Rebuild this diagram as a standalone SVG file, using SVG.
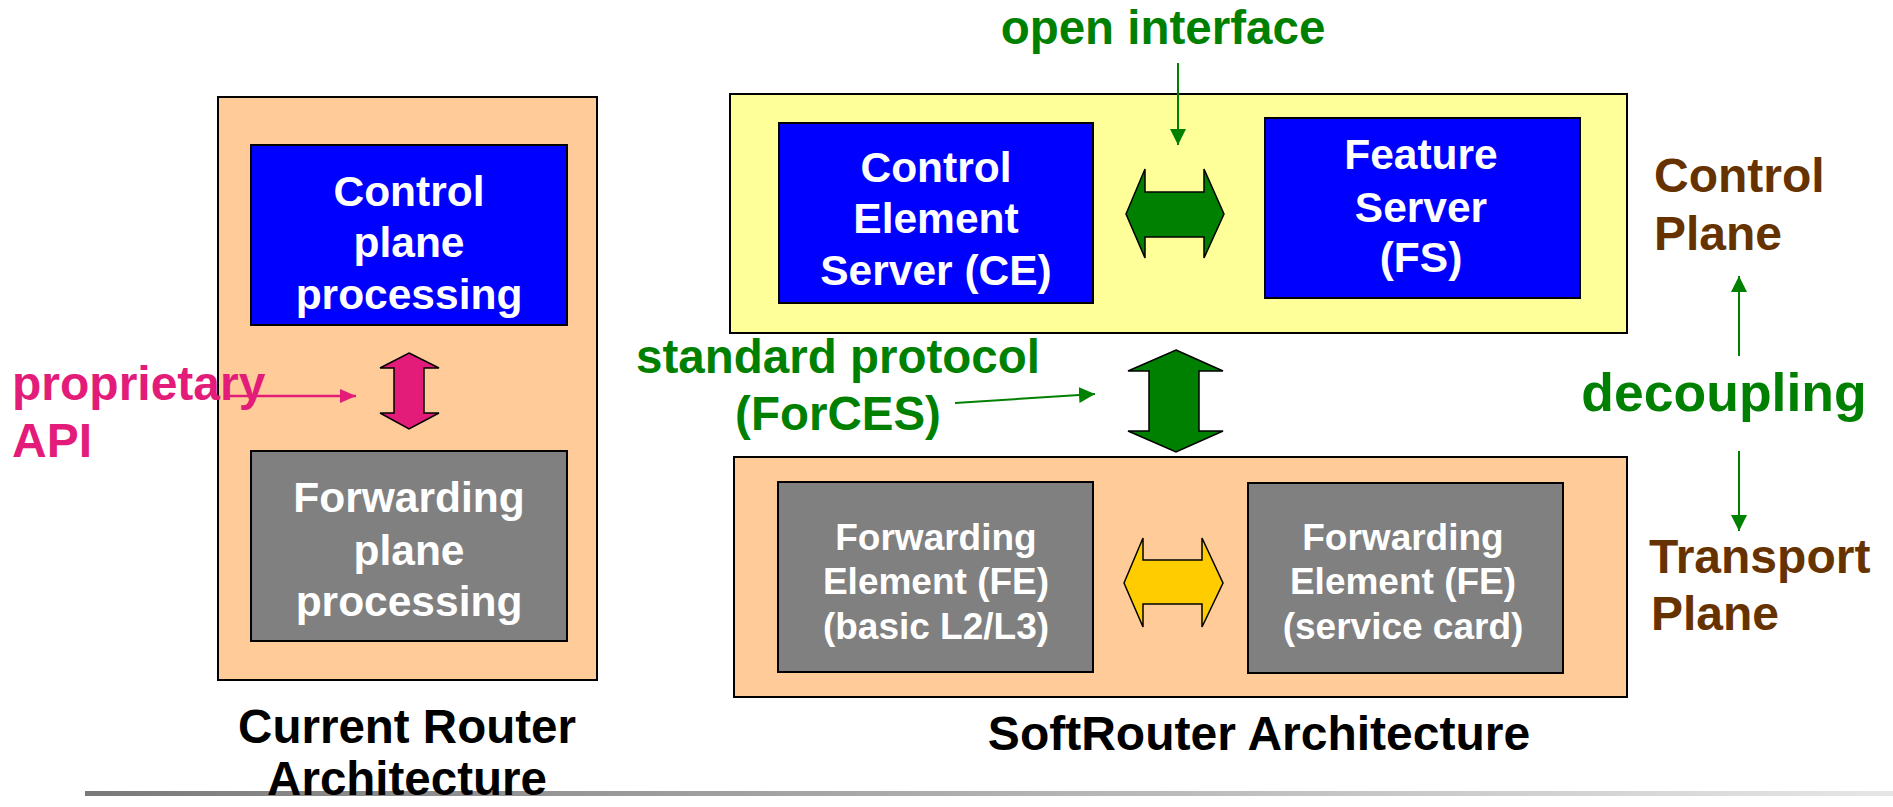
<svg xmlns="http://www.w3.org/2000/svg" width="1893" height="807" viewBox="0 0 1893 807">
<defs>
<style>
text{font-family:"Liberation Sans",Arial,sans-serif;font-weight:bold}
.frame{stroke:#000;stroke-width:2}
.peach{fill:#FFCC99}
.yellow{fill:#FFFF99}
.blue{fill:#0000FF;stroke:#000;stroke-width:2}
.gray{fill:#808080;stroke:#000;stroke-width:2}
.wt{fill:#FFFFFF;text-anchor:middle}
.big{font-size:42.5px}
.fe{font-size:37px}
.green{fill:#008000}
.brown{fill:#663300}
.pinkt{fill:#E31C79}
.dbl{stroke:#000;stroke-width:1.5;stroke-linejoin:miter}
.gline{stroke:#008000;stroke-width:2;fill:none}
.pline{stroke:#E31C79;stroke-width:2.5;fill:none}
</style>
<marker id="ag" viewBox="0 0 16 16" refX="16" refY="8" markerWidth="16" markerHeight="16" markerUnits="userSpaceOnUse" orient="auto"><path d="M0,0 L16,8 L0,16 Z" fill="#008000"/></marker>
<marker id="ap" viewBox="0 0 16 14" refX="16" refY="7" markerWidth="16" markerHeight="14" markerUnits="userSpaceOnUse" orient="auto"><path d="M0,0 L16,7 L0,14 Z" fill="#E31C79"/></marker>
<linearGradient id="rule" x1="0" y1="0" x2="1" y2="0"><stop offset="0" stop-color="#7a7a7a"/><stop offset="1" stop-color="#e6e6e6"/></linearGradient>
</defs>
<rect x="0" y="0" width="1893" height="807" fill="#FFFFFF"/>
<rect id="rule-line" x="85" y="791" width="1808" height="5" fill="url(#rule)"/>

<g id="current-router">
<rect class="peach frame" x="218" y="97" width="379" height="583"/>
</g>
<g id="control-plane-processing">
<rect class="blue" x="251" y="145" width="316" height="180"/>
<text class="wt big" x="409" y="206">Control</text>
<text class="wt big" x="409" y="257">plane</text>
<text class="wt big" x="409" y="309">processing</text>
</g>
<g id="forwarding-plane-processing">
<rect class="gray" x="251" y="451" width="316" height="190"/>
<text class="wt big" x="409" y="512">Forwarding</text>
<text class="wt big" x="409" y="565">plane</text>
<text class="wt big" x="409" y="616">processing</text>
</g>
<g id="label-proprietary">
<text class="pinkt" x="12" y="400" font-size="48">proprietary</text>
<text class="pinkt" x="12" y="457" font-size="48">API</text>
</g>
<g id="label-current">
<text x="407" y="743" font-size="47.5" text-anchor="middle" fill="#000">Current Router</text>
<text x="407" y="795" font-size="47.5" text-anchor="middle" fill="#000">Architecture</text>
</g>

<g id="control-plane-box">
<rect class="yellow frame" x="730" y="94" width="897" height="239"/>
</g>
<g id="ce">
<rect class="blue" x="779" y="123" width="314" height="180"/>
<text class="wt big" x="936" y="182">Control</text>
<text class="wt big" x="936" y="233">Element</text>
<text class="wt big" x="936" y="285">Server (CE)</text>
</g>
<g id="fs">
<rect class="blue" x="1265" y="118" width="315" height="180"/>
<text class="wt big" x="1421" y="169">Feature</text>
<text class="wt big" x="1421" y="222">Server</text>
<text class="wt big" x="1421" y="272">(FS)</text>
</g>
<g id="transport-plane-box">
<rect class="peach frame" x="734" y="457" width="893" height="240"/>
</g>
<g id="fe1">
<rect class="gray" x="778" y="482" width="315" height="190"/>
<text class="wt fe" x="936" y="550">Forwarding</text>
<text class="wt fe" x="936" y="594">Element (FE)</text>
<text class="wt fe" x="936" y="639">(basic L2/L3)</text>
</g>
<g id="fe2">
<rect class="gray" x="1248" y="483" width="315" height="190"/>
<text class="wt fe" x="1403" y="550">Forwarding</text>
<text class="wt fe" x="1403" y="594">Element (FE)</text>
<text class="wt fe" x="1403" y="639">(service card)</text>
</g>
<g id="labels-right">
<text class="green" x="1163" y="44" font-size="47.5" text-anchor="middle">open interface</text>
<text class="green" x="838" y="373" font-size="47.5" text-anchor="middle">standard protocol</text>
<text class="green" x="838" y="430" font-size="47.5" text-anchor="middle">(ForCES)</text>
<text class="green" x="1724" y="411" font-size="53.5" text-anchor="middle">decoupling</text>
<text class="brown" x="1654" y="192" font-size="48">Control</text>
<text class="brown" x="1654" y="250" font-size="48">Plane</text>
<text class="brown" x="1649" y="573" font-size="48">Transport</text>
<text class="brown" x="1651" y="630" font-size="48">Plane</text>
<text x="1259" y="750" font-size="48" text-anchor="middle" fill="#000">SoftRouter Architecture</text>
</g>

<g id="connectors">
<polygon class="dbl" fill="#E31C79" points="409,353 439,368 424,368 424,413 439,413 409,429 380,413 394,413 394,368 380,368"/>
<polygon class="dbl" fill="#008000" points="1126,214 1145,169 1145,192 1204,192 1204,169 1224,214 1204,258 1204,237 1145,237 1145,258"/>
<polygon class="dbl" fill="#008000" points="1176,350 1223,371 1199,371 1199,431 1223,431 1176,452 1128,431 1149,431 1149,371 1128,371"/>
<polygon class="dbl" fill="#FFCC00" points="1124,583 1143,538 1143,560 1202,560 1202,538 1223,583 1202,627 1202,604 1143,604 1143,627"/>
<line class="pline" x1="225" y1="396" x2="356" y2="396" marker-end="url(#ap)"/>
<line class="gline" x1="1178" y1="63" x2="1178" y2="145" marker-end="url(#ag)"/>
<line class="gline" x1="955" y1="403" x2="1095" y2="394" marker-end="url(#ag)"/>
<line class="gline" x1="1739" y1="356" x2="1739" y2="276" marker-end="url(#ag)"/>
<line class="gline" x1="1739" y1="451" x2="1739" y2="531" marker-end="url(#ag)"/>
</g>
</svg>
